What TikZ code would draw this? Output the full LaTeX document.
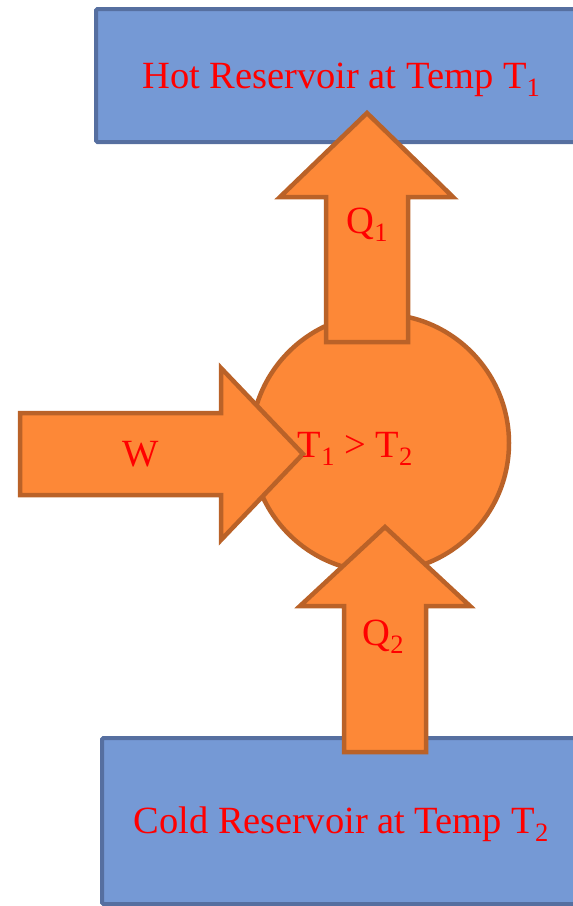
\documentclass[tikz,border=0pt]{standalone}
\usepackage{fontspec}
\setmainfont{Liberation Serif}
\definecolor{boxfill}{RGB}{117,153,213}
\definecolor{boxline}{RGB}{86,111,160}
\definecolor{orfill}{RGB}{253,136,55}
\definecolor{orline}{RGB}{186,98,40}
\definecolor{txt}{RGB}{255,0,0}
\newcommand\mysub[1]{\raisebox{-8.5pt}{\fontsize{26.5}{26.5}\selectfont #1}}
\begin{document}
\begin{tikzpicture}[x=1pt,y=-1pt,
  reservoir/.style={fill=boxfill,draw=boxline,line width=4pt,rounded corners=1.5pt},
  orange/.style={fill=orfill,draw=orline,line width=4.5pt,line join=miter},
  lbl/.style={text=txt,font=\fontsize{38.5}{42}\selectfont,inner sep=0pt,anchor=base}]
\useasboundingbox (0,0) rectangle (573,906);
\clip (0,0) rectangle (573,906);
% reservoirs
\path[reservoir] (96,9) rectangle (600,142);
\path[reservoir] (102,738) rectangle (600,904);
% engine
\node[orange,circle,minimum size=258,inner sep=0pt] (engine) at (380,443) {};
% Q1 arrow
\path[orange] (367,113) -- (453,197) -- (408,197) -- (408,342) -- (326,342) -- (326,197) -- (280,197) -- cycle;
% W arrow
\path[orange] (303,454) -- (221,540) -- (221,495) -- (20,495) -- (20,413) -- (221,413) -- (221,368) -- cycle;
% Q2 arrow
\path[orange] (385,527) -- (470,606) -- (426,606) -- (426,752) -- (344,752) -- (344,606) -- (300,606) -- cycle;
% labels
\node[lbl] (hot) at (341,88) {Hot Reservoir at Temp T\mysub{1}};
\node[lbl] (cold) at (341,833) {Cold Reservoir at Temp T\mysub{2}};
\node[lbl] (q1) at (367,233) {Q\mysub{1}};
\node[lbl] (w) at (141,466) {W};
\node[lbl] (cond) at (355,457) {T\mysub{1} > T\mysub{2}};
\node[lbl] (q2) at (383,645) {Q\mysub{2}};
\end{tikzpicture}
\end{document}
